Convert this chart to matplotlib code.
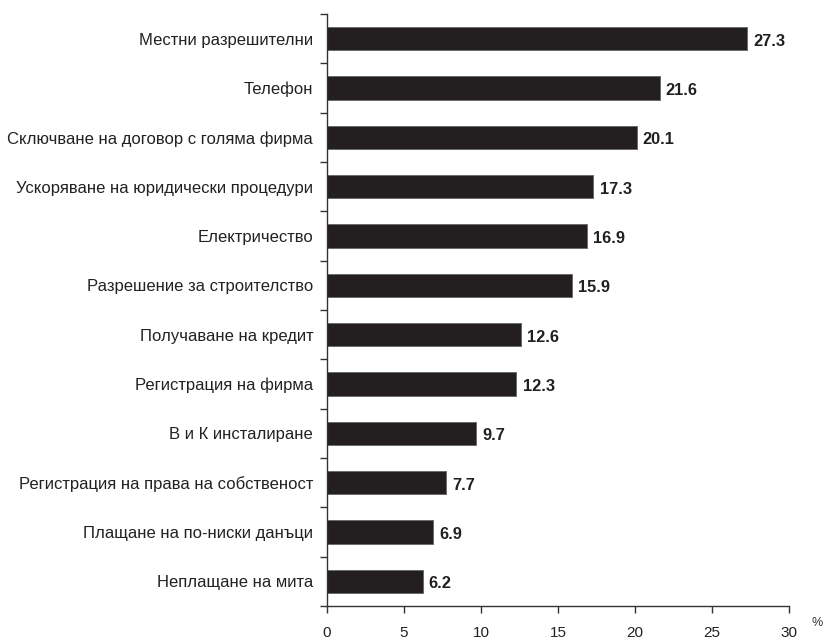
import numpy as np
import matplotlib.pyplot as plt

plt.rcParams['font.family'] = ['Liberation Sans', 'DejaVu Sans']

# data (top to bottom as in the chart)
categories = ['Местни разрешителни', 'Телефон', 'Сключване на договор с голяма фирма',
              'Ускоряване на юридически процедури', 'Електричество',
              'Разрешение за строителство', 'Получаване на кредит',
              'Регистрация на фирма', 'В и К инсталиране',
              'Регистрация на права на собственост', 'Плащане на по-ниски данъци',
              'Неплащане на мита']
values = [27.3, 21.6, 20.1, 17.3, 16.9, 15.9, 12.6, 12.3, 9.7, 7.7, 6.9, 6.2]
xticks = [0, 5, 10, 15, 20, 25, 30]

bar_col = '#231f20'
axis_col = '#333333'

fig = plt.figure(figsize=(8.29, 6.42), dpi=100)
ax = fig.add_axes([0.3945, 0.0561, 0.5572, 0.9221])

n = len(categories)
ypos = np.arange(n)[::-1]  # first category on top
ax.barh(ypos, values, height=0.47, color=bar_col, edgecolor='#6a6a6a', linewidth=0.7)

for y, v in zip(ypos, values):
    ax.text(v + 0.4, y - 0.05, f'{v:.1f}', va='center', ha='left',
            fontsize=11.8, fontweight='bold', color=bar_col)

ax.set_xlim(0, 30)
ax.set_ylim(-0.5, n - 0.5)

# labels at bar centres, tick marks at category boundaries
ax.set_yticks(ypos)
ax.set_yticklabels(categories, fontsize=12, color='#222222')
ax.tick_params(axis='y', which='major', length=0, pad=10)
ax.set_yticks(np.arange(n + 1) - 0.5, minor=True)
ax.tick_params(axis='y', which='minor', length=5, width=1, color=axis_col)

ax.set_xticks(xticks)
ax.set_xticklabels([str(t) for t in xticks], fontsize=11, color='#222222')
ax.tick_params(axis='x', length=5, width=1, color=axis_col, pad=9.5)

for s in ['top', 'right']:
    ax.spines[s].set_visible(False)
for s in ['left', 'bottom']:
    ax.spines[s].set_color(axis_col)
    ax.spines[s].set_linewidth(1)

fig.text(0.9855, 0.0296, '%', fontsize=9, color='#333333', ha='center', va='center')

plt.savefig('out.png', dpi=100)
